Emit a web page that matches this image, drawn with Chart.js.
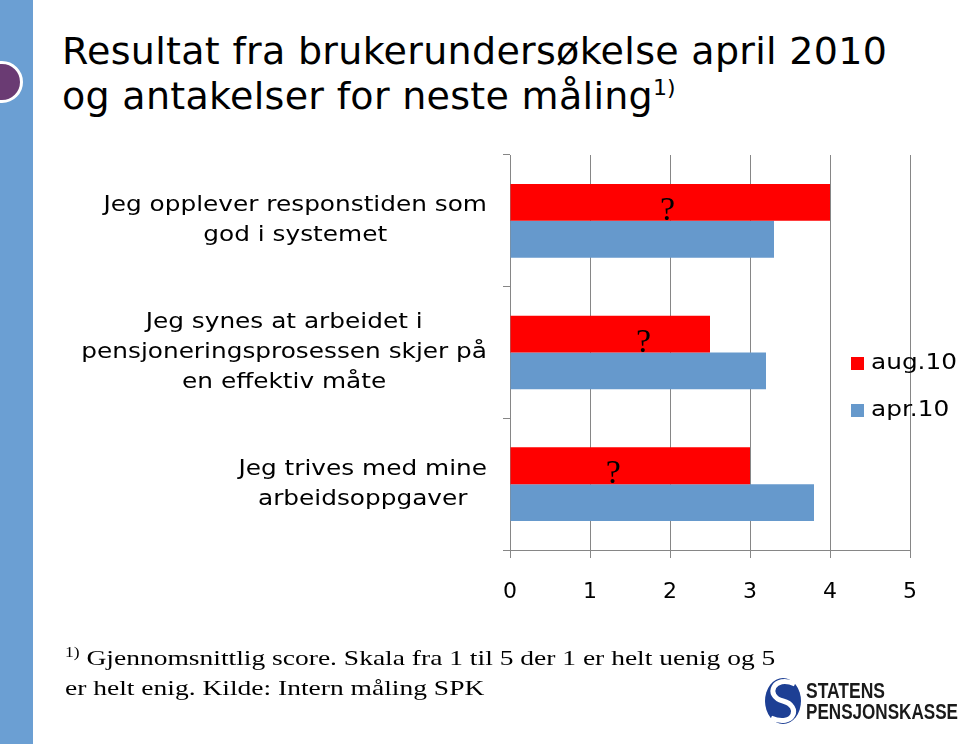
<!DOCTYPE html>
<html><head><meta charset="utf-8">
<script src="https://cdn.jsdelivr.net/npm/chart.js@4.4.1/dist/chart.umd.min.js"></script>
<style>
html,body{margin:0;padding:0;}
body{width:960px;height:744px;overflow:hidden;background:#fff;position:relative;}
#stripe{position:absolute;left:0;top:0;width:33px;height:744px;background:#6b9fd3;}
#dot{position:absolute;left:-19px;top:61px;width:36px;height:36px;border-radius:50%;background:#6a3b73;border:3px solid #fff;}
#title{position:absolute;left:62px;top:29px;font-family:'DejaVu Sans',sans-serif;font-size:38px;line-height:45px;letter-spacing:0.3px;color:#000;white-space:nowrap;}
#title sup{font-size:22px;position:relative;top:-14px;vertical-align:baseline;line-height:0;letter-spacing:0;}
#note{position:absolute;left:65px;top:643px;font-family:'Liberation Serif','Times New Roman',serif;font-size:22px;line-height:30px;color:#000;white-space:nowrap;transform:scaleX(1.25);transform-origin:0 0;}
#note sup{font-size:14px;position:relative;top:-8px;vertical-align:baseline;line-height:0;}
#c{position:absolute;left:0;top:0;}
#logo{position:absolute;left:0;top:0;}
</style></head>
<body>
<div id="stripe"></div>
<div id="dot"></div>
<div id="title">Resultat fra brukerundersøkelse april 2010<br>og antakelser for neste måling<sup>1)</sup></div>
<canvas id="c" width="960" height="744"></canvas>
<div id="note"><sup>1)</sup> Gjennomsnittlig score. Skala fra 1 til 5 der 1 er helt uenig og 5<br>er helt enig. Kilde: Intern måling SPK</div>
<svg id="logo" width="960" height="744" viewBox="0 0 960 744">
  <ellipse cx="783" cy="701" rx="18" ry="23" fill="#1d3f94"/>
  <path d="M795 684 C774 674,764 696,783 701 C802 706,794 728,771 718" fill="none" stroke="#fff" stroke-width="5"/>
  <text x="806" y="698" font-family="Liberation Sans,Arial,sans-serif" font-weight="bold" font-size="22" textLength="79" lengthAdjust="spacingAndGlyphs" fill="#1a1a1a">STATENS</text>
  <text x="806" y="719" font-family="Liberation Sans,Arial,sans-serif" font-weight="bold" font-size="22" textLength="152" lengthAdjust="spacingAndGlyphs" fill="#1a1a1a">PENSJONSKASSE</text>
</svg>
<script>
const categories = [
  ["Jeg opplever responstiden som", "god i systemet"],
  ["Jeg synes at arbeidet i", "pensjoneringsprosessen skjer på", "en effektiv måte"],
  ["Jeg trives med mine", "arbeidsoppgaver"]
];
const seriesNames = ["aug.10", "apr.10"];
const aug10 = [4.0, 2.5, 3.0];
const apr10 = [3.3, 3.2, 3.8];
const xTickValues = [0, 1, 2, 3, 4, 5];
const questionMarkAt = [1.97, 1.67, 1.29];

const RED = '#ff0000', BLUE = '#6699cc', GRID = '#868686';
const LABEL_FONT = "21px 'DejaVu Sans'";
const STRETCH = 1.18;

const overlay = {
  id: 'overlay',
  afterDatasetsDraw(chart) {
    const ctx = chart.ctx;
    const xs = chart.scales.x;
    const meta = chart.getDatasetMeta(0);
    ctx.save();
    ctx.fillStyle = '#000';
    ctx.font = "34px 'Liberation Serif'";
    ctx.textAlign = 'center';
    ctx.textBaseline = 'alphabetic';
    meta.data.forEach((bar, i) => {
      const bottom = bar.y + bar.height / 2;
      ctx.fillText('?', xs.getPixelForValue(questionMarkAt[i]), bottom - 1);
    });
    ctx.restore();
  },
  afterDraw(chart) {
    const ctx = chart.ctx;
    const ys = chart.scales.y;
    const right = chart.chartArea.left - 23;
    ctx.save();
    ctx.fillStyle = '#000';
    ctx.font = LABEL_FONT;
    ctx.textAlign = 'center';
    ctx.textBaseline = 'middle';
    categories.forEach((lines, i) => {
      const cy = ys.getPixelForValue(i);
      const maxW = Math.max(...lines.map(l => ctx.measureText(l).width)) * STRETCH;
      const cx = right - maxW / 2;
      const lh = 30;
      lines.forEach((l, k) => {
        const y = cy + (k - (lines.length - 1) / 2) * lh;
        ctx.save();
        ctx.translate(cx, y);
        ctx.scale(STRETCH, 1);
        ctx.fillText(l, 0, 0);
        ctx.restore();
      });
    });
    const colors = [RED, BLUE];
    ctx.textAlign = 'left';
    seriesNames.forEach((n, k) => {
      const y = 364 + k * 47;
      ctx.fillStyle = colors[k];
      ctx.fillRect(851, y - 7, 13, 13);
      ctx.fillStyle = '#000';
      ctx.save();
      ctx.translate(871, y);
      ctx.scale(STRETCH, 1);
      ctx.fillText(n, 0, 0);
      ctx.restore();
    });
    ctx.restore();
  }
};

new Chart(document.getElementById('c'), {
  type: 'bar',
  data: {
    labels: categories,
    datasets: [
      { label: seriesNames[0], data: aug10, backgroundColor: RED, borderWidth: 0 },
      { label: seriesNames[1], data: apr10, backgroundColor: BLUE, borderWidth: 0 }
    ]
  },
  options: {
    indexAxis: 'y',
    responsive: false,
    animation: false,
    devicePixelRatio: 1,
    barPercentage: 1,
    categoryPercentage: 0.56,
    layout: { padding: { left: 0, top: 155, right: 50, bottom: 134 } },
    plugins: { legend: { display: false }, tooltip: { enabled: false } },
    scales: {
      x: {
        min: 0, max: 5,
        afterBuildTicks(s) { s.ticks = xTickValues.map(v => ({ value: v })); },
        ticks: { color: '#000', font: { family: 'DejaVu Sans', size: 22 }, padding: 21 },
        grid: { color: GRID, lineWidth: 1, tickLength: 8 },
        border: { color: GRID, width: 1 },
        afterFit(s) { s.height = 60; }
      },
      y: {
        grid: { drawOnChartArea: false, offset: true, color: GRID, tickLength: 7 },
        border: { color: GRID, width: 1 },
        ticks: { display: false },
        afterFit(s) { s.width = 510; }
      }
    }
  },
  plugins: [overlay]
});
</script>
</body></html>
